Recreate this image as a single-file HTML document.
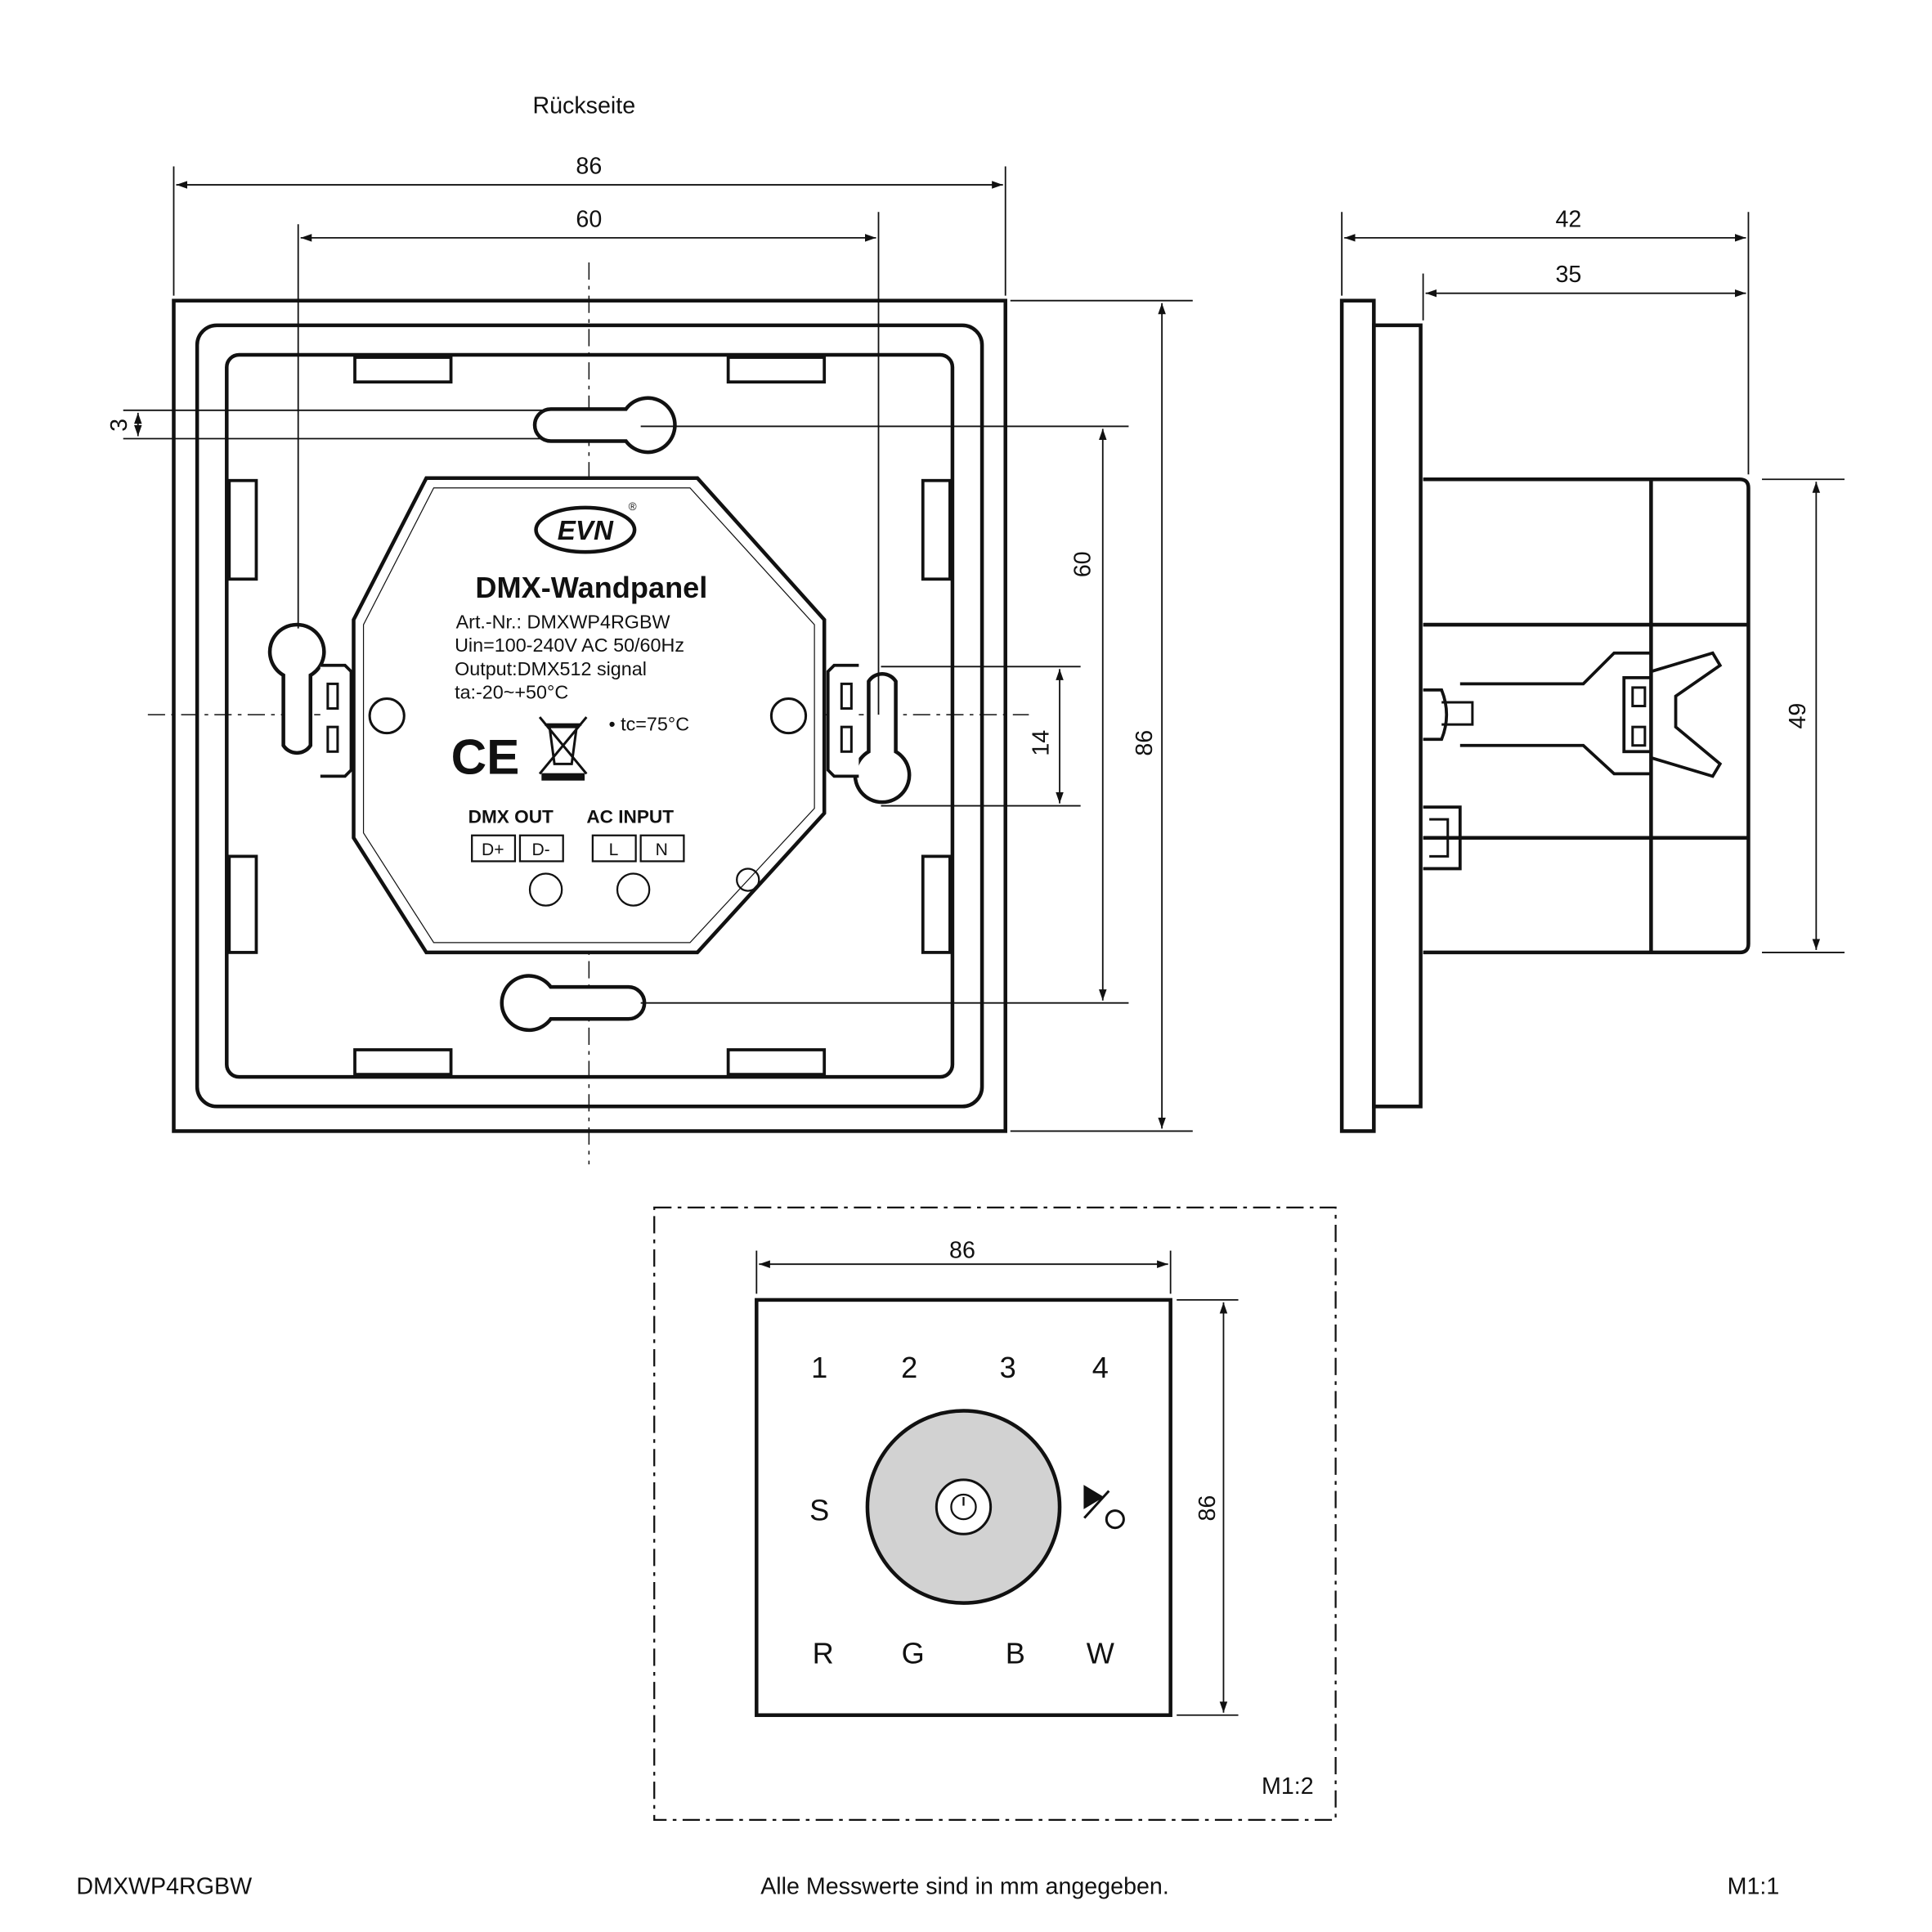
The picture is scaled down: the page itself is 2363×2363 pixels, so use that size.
<!DOCTYPE html>
<html><head><meta charset="utf-8"><style>
html,body{margin:0;padding:0;background:#fff}
svg{display:block}
text{font-family:"Liberation Sans",Arial,sans-serif;fill:#111}
</style></head><body>
<svg width="2363" height="2363" viewBox="0 0 1568 1568" xmlns="http://www.w3.org/2000/svg">
<defs>
<marker id="a" viewBox="0 0 10 10" refX="10" refY="5" markerWidth="9" markerHeight="9" orient="auto-start-reverse" markerUnits="userSpaceOnUse"><path d="M0,1.5 L10,5 L0,8.5z" fill="#111"/></marker>
</defs>
<g stroke="#111" fill="none">
<!-- front view -->
<rect x="141" y="244" width="675" height="674" stroke-width="3"/>
<rect x="160" y="264" width="637" height="634" rx="16" stroke-width="3"/>
<rect x="184" y="288" width="589" height="586" rx="10" stroke-width="3"/>
<g stroke-width="2.5" fill="#fff">
<rect x="288" y="290" width="78" height="20"/><rect x="591" y="290" width="78" height="20"/>
<rect x="288" y="852" width="78" height="20"/><rect x="591" y="852" width="78" height="20"/>
<rect x="186" y="390" width="22" height="80"/><rect x="186" y="695" width="22" height="78"/>
<rect x="749" y="390" width="22" height="80"/><rect x="749" y="695" width="22" height="78"/>
</g>
<!-- center lines -->
<line x1="478" y1="213" x2="478" y2="945" stroke-width="1" stroke-dasharray="14,5,3,5"/>
<line x1="120" y1="580" x2="835" y2="580" stroke-width="1" stroke-dasharray="14,5,3,5"/>
<!-- keyholes -->
<path d="M447,332 L508,332 A22,22 0 1 1 508,358 L447,358 A13,13 0 0 1 447,332Z" stroke-width="3" fill="#fff"/>
<path d="M510,801 L447,801 A22,22 0 1 0 447,827 L510,827 A13,13 0 0 0 510,801Z" stroke-width="3" fill="#fff"/>
<path d="M230,548 A22,22 0 1 1 252,548 L252,605 A13,13 0 0 1 230,605Z" stroke-width="3" fill="#fff"/>
<path d="M727,610 A22,22 0 1 1 705,610 L705,553 A13,13 0 0 1 727,553Z" stroke-width="3" fill="#fff"/>
<!-- clips -->
<path d="M260,540 L280,540 L285,545 L285,625 L280,630 L260,630" stroke-width="2.5" fill="#fff"/>
<rect x="266" y="555" width="8" height="20" stroke-width="2"/><rect x="266" y="590" width="8" height="20" stroke-width="2"/>
<path d="M697,540 L677,540 L672,545 L672,625 L677,630 L697,630" stroke-width="2.5" fill="#fff"/>
<rect x="683" y="555" width="8" height="20" stroke-width="2"/><rect x="683" y="590" width="8" height="20" stroke-width="2"/>
<!-- octagon -->
<polygon points="346,388 566,388 669,503 669,660 566,773 346,773 287,680 287,503" stroke-width="3" fill="#fff"/>
<polygon points="352,396 560,396 661,507 661,656 560,765 352,765 295,676 295,507" stroke-width="0.8"/>
<circle cx="314" cy="581" r="14" stroke-width="2"/>
<circle cx="640" cy="581" r="14" stroke-width="2"/>
<circle cx="443" cy="722" r="13" stroke-width="1.5"/>
<circle cx="514" cy="722" r="13" stroke-width="1.5"/>
<circle cx="607" cy="714" r="9" stroke-width="1.5"/>
<ellipse cx="475" cy="430" rx="40" ry="18" stroke-width="3"/>
<rect x="383" y="678" width="35" height="21" stroke-width="1.5"/>
<rect x="422" y="678" width="35" height="21" stroke-width="1.5"/>
<rect x="481" y="678" width="35" height="21" stroke-width="1.5"/>
<rect x="520" y="678" width="35" height="21" stroke-width="1.5"/>
<!-- WEEE bin -->
<path d="M446,590 L468,590 L464,620 L450,620Z M442,588 L472,588 M438,582 L476,628 M476,582 L438,628" stroke-width="2"/>
<rect x="440" y="628" width="34" height="5" fill="#111"/>
<!-- dims front -->
<g stroke-width="1.2">
<line x1="141" y1="135" x2="141" y2="240"/><line x1="816" y1="135" x2="816" y2="240"/>
<line x1="143" y1="150" x2="814" y2="150" marker-start="url(#a)" marker-end="url(#a)"/>
<line x1="242" y1="182" x2="242" y2="510"/><line x1="713" y1="172" x2="713" y2="580"/>
<line x1="244" y1="193" x2="711" y2="193" marker-start="url(#a)" marker-end="url(#a)"/>
<line x1="820" y1="244" x2="968" y2="244"/><line x1="820" y1="918" x2="968" y2="918"/>
<line x1="943" y1="246" x2="943" y2="916" marker-start="url(#a)" marker-end="url(#a)"/>
<line x1="520" y1="346" x2="916" y2="346"/><line x1="520" y1="814" x2="916" y2="814"/>
<line x1="895" y1="348" x2="895" y2="812" marker-start="url(#a)" marker-end="url(#a)"/>
<line x1="715" y1="541" x2="877" y2="541"/><line x1="715" y1="654" x2="877" y2="654"/>
<line x1="860" y1="543" x2="860" y2="652" marker-start="url(#a)" marker-end="url(#a)"/>
<line x1="100" y1="333" x2="440" y2="333"/><line x1="100" y1="356" x2="440" y2="356"/>
<line x1="112" y1="335" x2="112" y2="354" marker-start="url(#a)" marker-end="url(#a)"/>
</g>
<!-- side view -->
<rect x="1089" y="244" width="26" height="674" stroke-width="3"/>
<rect x="1115" y="264" width="38" height="634" stroke-width="3"/>
<path d="M1155,389 L1412,389 Q1419,389 1419,396 L1419,766 Q1419,773 1412,773 L1155,773" stroke-width="3"/>
<line x1="1340" y1="389" x2="1340" y2="773" stroke-width="3"/>
<line x1="1155" y1="507" x2="1419" y2="507" stroke-width="3"/>
<line x1="1155" y1="680" x2="1419" y2="680" stroke-width="3"/>
<path d="M1155,560 L1170,560 Q1178,580 1170,600 L1155,600" stroke-width="2.5"/>
<path d="M1170,570 L1195,570 L1195,588 L1170,588" stroke-width="2"/>
<path d="M1185,555 L1285,555 L1310,530 L1340,530 M1185,605 L1285,605 L1310,628 L1340,628" stroke-width="2.5"/>
<rect x="1318" y="550" width="22" height="60" stroke-width="2.5"/>
<rect x="1325" y="558" width="10" height="15" stroke-width="2"/><rect x="1325" y="590" width="10" height="15" stroke-width="2"/>
<path d="M1340,545 L1390,530 L1396,540 L1360,565 L1360,590 L1396,620 L1390,630 L1340,615" stroke-width="2.5"/>
<path d="M1155,655 L1185,655 L1185,705 L1155,705" stroke-width="2.5"/>
<path d="M1160,665 L1175,665 L1175,695 L1160,695" stroke-width="2"/>
<g stroke-width="1.2">
<line x1="1089" y1="172" x2="1089" y2="240"/><line x1="1419" y1="172" x2="1419" y2="385"/>
<line x1="1091" y1="193" x2="1417" y2="193" marker-start="url(#a)" marker-end="url(#a)"/>
<line x1="1155" y1="222" x2="1155" y2="260"/>
<line x1="1157" y1="238" x2="1417" y2="238" marker-start="url(#a)" marker-end="url(#a)"/>
<line x1="1430" y1="389" x2="1497" y2="389"/><line x1="1430" y1="773" x2="1497" y2="773"/>
<line x1="1474" y1="391" x2="1474" y2="771" marker-start="url(#a)" marker-end="url(#a)"/>
</g>
<!-- bottom view -->
<rect x="531" y="980" width="553" height="497" stroke-width="1.5" stroke-dasharray="14,5,3,5"/>
<rect x="614" y="1055" width="336" height="337" stroke-width="3"/>
<circle cx="782" cy="1223" r="78" fill="#d2d2d2" stroke-width="3"/>
<circle cx="782" cy="1223" r="22" fill="#fff" stroke-width="2"/>
<circle cx="782" cy="1223" r="10" stroke-width="1.5"/>
<line x1="782" y1="1215" x2="782" y2="1222" stroke-width="1.5"/>
<path d="M880,1206 L880,1224 L895,1215Z" fill="#111" stroke-width="1"/>
<line x1="880" y1="1232" x2="900" y2="1210" stroke-width="2"/>
<circle cx="905" cy="1233" r="7" stroke-width="2"/>
<g stroke-width="1.2">
<line x1="614" y1="1015" x2="614" y2="1050"/><line x1="950" y1="1015" x2="950" y2="1050"/>
<line x1="616" y1="1026" x2="948" y2="1026" marker-start="url(#a)" marker-end="url(#a)"/>
<line x1="955" y1="1055" x2="1005" y2="1055"/><line x1="955" y1="1392" x2="1005" y2="1392"/>
<line x1="993" y1="1057" x2="993" y2="1390" marker-start="url(#a)" marker-end="url(#a)"/>
</g>
</g>
<!-- text -->
<g font-size="19">
<text x="474" y="92" text-anchor="middle">Rückseite</text>
<text x="478" y="141" text-anchor="middle">86</text>
<text x="478" y="184" text-anchor="middle">60</text>
<text x="1273" y="184" text-anchor="middle">42</text>
<text x="1273" y="229" text-anchor="middle">35</text>
<text x="781" y="1021" text-anchor="middle">86</text>
<text transform="translate(885,458) rotate(-90)" text-anchor="middle">60</text>
<text transform="translate(935,603) rotate(-90)" text-anchor="middle">86</text>
<text transform="translate(851,603) rotate(-90)" text-anchor="middle">14</text>
<text transform="translate(103,345) rotate(-90)" text-anchor="middle">3</text>
<text transform="translate(1465,581) rotate(-90)" text-anchor="middle">49</text>
<text transform="translate(986,1224) rotate(-90)" text-anchor="middle">86</text>
<text x="1045" y="1456" text-anchor="middle">M1:2</text>
<text x="62" y="1537">DMXWP4RGBW</text>
<text x="783" y="1537" text-anchor="middle">Alle Messwerte sind in mm angegeben.</text>
<text x="1423" y="1537" text-anchor="middle">M1:1</text>
</g>
<text x="475" y="438" text-anchor="middle" font-size="22" font-weight="bold" font-style="italic">EVN</text>
<text x="510" y="414" font-size="9">®</text>
<text x="480" y="485" text-anchor="middle" font-size="24" font-weight="bold">DMX-Wandpanel</text>
<g font-size="15.5">
<text x="370" y="510">Art.-Nr.: DMXWP4RGBW</text>
<text x="369" y="529">Uin=100-240V AC    50/60Hz</text>
<text x="369" y="548">Output:DMX512 signal</text>
<text x="369" y="567">ta:-20~+50°C</text>
<text x="494" y="593">• tc=75°C</text>
</g>
<text x="366" y="628" font-size="40" font-weight="bold">CE</text>
<text x="380" y="668" font-size="15" font-weight="bold">DMX OUT</text>
<text x="476" y="668" font-size="15" font-weight="bold">AC INPUT</text>
<g font-size="14" text-anchor="middle">
<text x="400" y="694">D+</text><text x="439" y="694">D-</text>
<text x="498" y="694">L</text><text x="537" y="694">N</text>
</g>
<g font-size="24" text-anchor="middle">
<text x="665" y="1118">1</text><text x="738" y="1118">2</text><text x="818" y="1118">3</text><text x="893" y="1118">4</text>
<text x="665" y="1234">S</text>
<text x="668" y="1350">R</text><text x="741" y="1350">G</text><text x="824" y="1350">B</text><text x="893" y="1350">W</text>
</g>
</svg>
</body></html>
